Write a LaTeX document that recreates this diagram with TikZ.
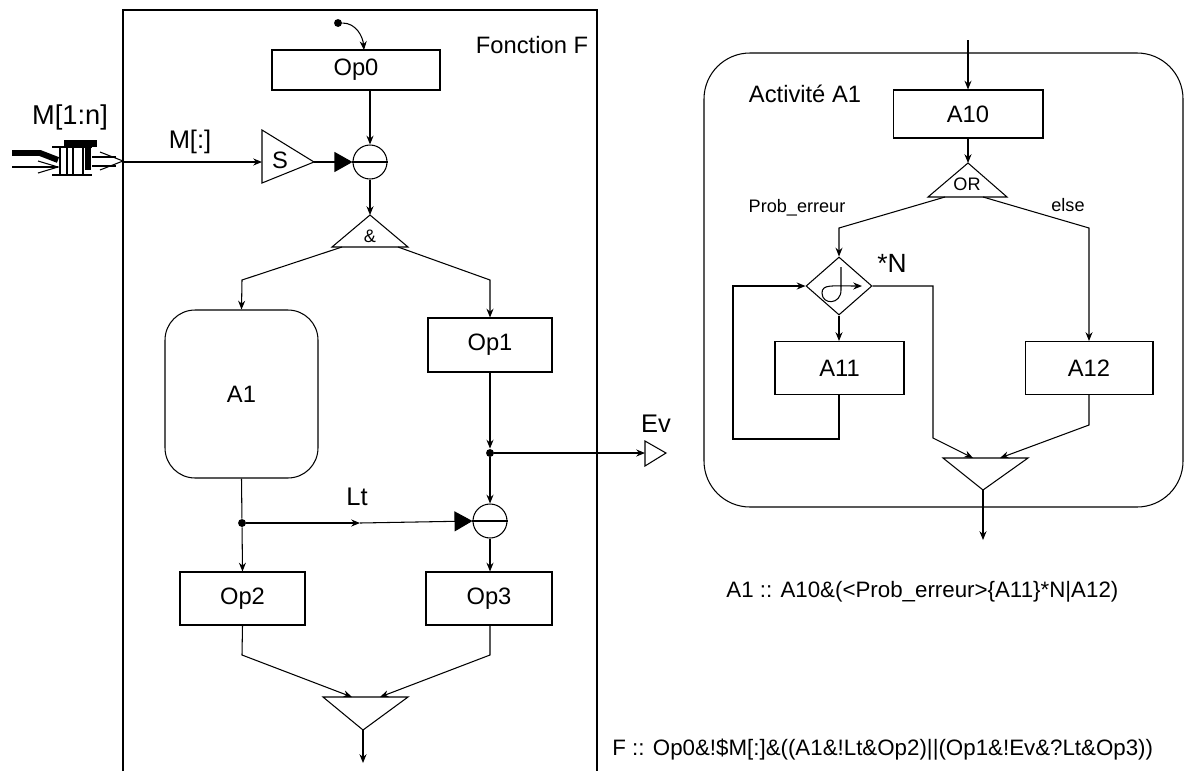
\documentclass[tikz,border=0pt]{standalone}
\usepackage{fontspec}
\setmainfont{Liberation Sans}
\usetikzlibrary{positioning, shapes, arrows.meta}

\begin{document}
\begin{tikzpicture}[x=0.02cm, y=-0.02cm, >={Stealth[length=5pt,width=4pt]},
  font=\fontsize{13.5}{16}\selectfont, line width=0.6pt,
  op/.style={draw, rectangle, inner sep=0pt},
  junc/.style={draw, circle, minimum size=0.68cm, inner sep=0pt},
  pt/.style={circle, fill, inner sep=0pt, minimum size=4.5pt},
  big/.style={-{Triangle[length=0.36cm,width=0.4cm]}},
  small/.style={font=\fontsize{10.3}{12}\selectfont},
  formel/.style={anchor=west, font=\fontsize{12.7}{15}\selectfont}]
  \useasboundingbox (0,0) rectangle (1189,771);

  % Fonction F
  \draw (123,771) -- (123,10) -- (597,10) -- (597,771);
  \node (fct) at (532,45) {Fonction F};

  \node (op0) [op, minimum width=3.36cm, minimum height=0.8cm] at (356,70) {Op0};
  \node (start) [pt] at (338,23) {};
  \coordinate (op0in) at (364,50);
  \draw[->] (start) to[out=0, in=95] (op0in);

  % entree M[1:n]
  \node (m) [font=\fontsize{15.5}{18}\selectfont] at (70,117) {M[1:n]};
  \draw[line width=3.4pt] (12,153) -- (40,153) -- (58,160);
  \draw (12,167) -- (58,167);
  \draw (38,161) -- (58,167) -- (38,173);
  \draw (60,147) rectangle (83,175);
  \draw (67,147) -- (67,175);
  \draw (73,147) -- (73,175);
  \draw (52,147) -- (92,147);
  \draw (52,175) -- (92,175);
  \fill (64,140) rectangle (97,147);
  \fill (85,147) rectangle (91,170);
  \draw (92,157) -- (116,157);
  \draw (92,166) -- (116,166);
  \draw (100,152) -- (123,161) -- (100,170);
  \coordinate (fin) at (123,162);
  \node (mm) [font=\fontsize{14.5}{17}\selectfont] at (190,142) {M[:]};

  % S
  \draw (262,130) -- (314,162) -- (262,183) -- cycle;
  \node (s) at (280,160) {S};
  \coordinate (sin) at (262,162);
  \coordinate (sout) at (314,162);
  \draw[->] (fin) -- (sin);

  \node (c0) [junc] at (370,162) {};
  \draw (c0.west) -- (c0.east);
  \draw[big] (sout) -- (c0.west);
  \draw[->] (op0.south -| c0) -- (c0.north);

  % &
  \draw (370,215) -- (408,247) -- (332,247) -- cycle;
  \node (et) [small] at (370,236) {\&};
  \coordinate (etin) at (370,215);
  \draw[->] (c0.south) -- (etin);

  \node (a1) [op, rounded corners=0.6cm, minimum width=3.06cm, minimum height=3.36cm] at (241.5,394) {A1};
  \node (op1) [op, minimum width=2.48cm, minimum height=1.08cm] at (490,345) {Op1};
  \draw[->] (342,247) -- (242,280) -- (a1.north);
  \draw[->] (398,247) -- (490,280) -- (op1.north);

  % Ev
  \node (dev) [pt] at (490,453) {};
  \draw (645,441) -- (666,453) -- (645,466) -- cycle;
  \coordinate (evin) at (645,453);
  \node (ev) [font=\fontsize{14.5}{17}\selectfont] at (656,424) {Ev};
  \draw[->] (op1.south) -- (dev);
  \draw[->] (dev) -- (evin);

  % Lt
  \node (lt) [junc] at (490,521) {};
  \draw (lt.west) -- (lt.east);
  \node (dlt) [pt] at (242,523) {};
  \coordinate (ltmid) at (360,523);
  \node (ltl) [font=\fontsize{14.5}{17}\selectfont] at (357,497) {Lt};
  \draw (a1.south) -- (dlt);
  \draw[->] (dlt) -- (ltmid);
  \draw[big] (ltmid) -- (lt.west);
  \draw[->] (dev) -- (lt.north);

  \node (op2) [op, minimum width=2.5cm, minimum height=1.06cm] at (242.5,598.5) {Op2};
  \node (op3) [op, minimum width=2.52cm, minimum height=1.06cm] at (489,598.5) {Op3};
  \draw[->] (dlt) -- (op2.north);
  \draw[->] (lt.south) -- (op3.north -| lt);

  % fin
  \draw (323,697) -- (408,697) -- (363,730) -- cycle;
  \coordinate (fout) at (363,730);
  \coordinate (fend) at (363,763);
  \draw[->] (op2.south) -- (242,655) -- (352,697);
  \draw[->] (op3.south -| lt) -- (490,655) -- (380,697);
  \draw[->] (fout) -- (fend);

  \node (ff) [formel] at (606,750) {F :: Op0\&!\$M[:]\&((A1\&!Lt\&Op2)||(Op1\&!Ev\&?Lt\&Op3))};

  % Activite A1
  \draw[rounded corners=0.92cm] (704,507) rectangle (1183,53);
  \node (act) at (805,94) {Activité A1};
  \coordinate (ain) at (968,40);
  \node (a10) [op, minimum width=3cm, minimum height=0.96cm] at (968,114) {A10};
  \draw[->] (ain) -- (a10.north);

  \draw (968,163) -- (1007,197) -- (928,197) -- cycle;
  \node (or) [small] at (967,184) {OR};
  \draw[->] (a10.south) -- (968,163);

  \node (rep) [draw, diamond, minimum width=1.32cm, minimum height=1.16cm, inner sep=0pt] at (839,286) {};
  \draw[->] (841,267) -- (841,290) .. controls (841,305) and (822,305) .. (822,293) .. controls (822,284) and (832,286) .. (862,286);
  \node (n) [font=\fontsize{15}{18}\selectfont] at (892,263) {*N};
  \node (prob) [small] at (797,208) {Prob\_erreur};
  \node (else) [small] at (1068,205) {else};

  \node (a11) [op, minimum width=2.58cm, minimum height=1.06cm] at (839.5,368) {A11};
  \node (a12) [op, minimum width=2.56cm, minimum height=1.06cm] at (1089,368) {A12};

  \draw[->] (945,197) -- (839,228) -- (rep.north);
  \draw[->] (983,197) -- (1089,228) -- (a12.north);
  \draw[->] (rep.south) -- (a11.north -| rep);
  \draw[->] (a11.south -| rep) -- (839,439) -- (733,439) -- (733,286) -- (rep.west);

  \draw (943,458) -- (1028,458) -- (983,490) -- cycle;
  \draw[->] (rep.east) -- (933,286) -- (933,438) -- (973,458);
  \draw[->] (a12.south) -- (1089,425) -- (1000,458);
  \draw[->] (983,490) -- (983,540);

  \node (fa) [formel] at (720,592) {A1 :: A10\&(<Prob\_erreur>\{A11\}*N|A12)};
\end{tikzpicture}
\end{document}
